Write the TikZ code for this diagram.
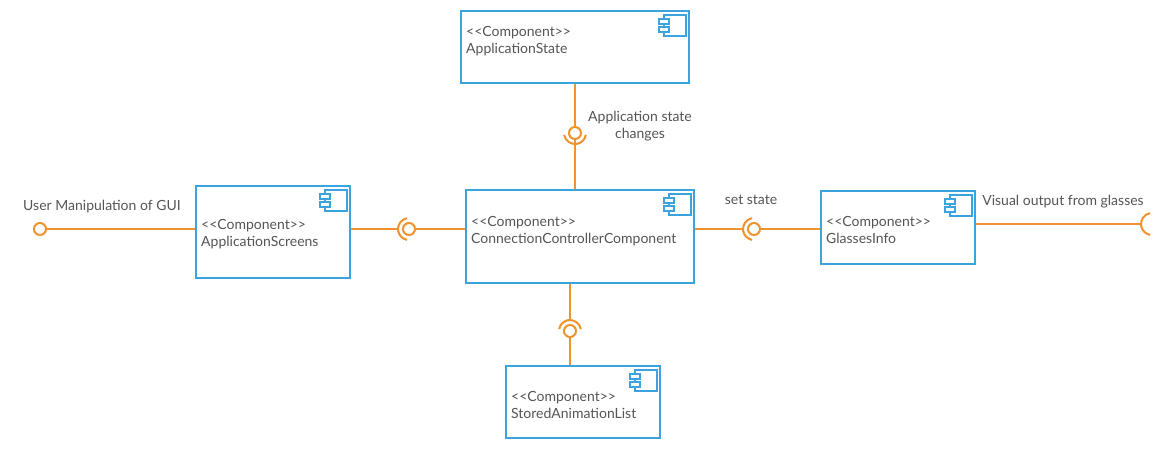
\documentclass[tikz,border=0pt]{standalone}
\usepackage{fontspec}
\setmainfont{Lato}
\usepackage{xcolor}
\usetikzlibrary{positioning,calc}

\definecolor{umlblue}{RGB}{59,163,221}
\definecolor{umlorange}{RGB}{240,146,46}
\definecolor{umltext}{RGB}{85,85,85}

% stereotype text without the << ligature
\newcommand{\stereo}{<{}<Component>{}>}

% component icon in the top right corner of a box
\newcommand{\compicon}[1]{%
  \draw[icon] ($(#1.north east)+(-26pt,-5pt)$) rectangle ($(#1.north east)+(-4pt,-26pt)$);
  \draw[icon, fill=white] ($(#1.north east)+(-31pt,-9pt)$) rectangle ($(#1.north east)+(-21pt,-14pt)$);
  \draw[icon, fill=white] ($(#1.north east)+(-31pt,-17pt)$) rectangle ($(#1.north east)+(-21pt,-22pt)$);
}

\begin{document}
\begin{tikzpicture}[
  x=1pt, y=1pt,
  font=\fontsize{14}{17}\selectfont, text=umltext,
  box/.style={draw=umlblue, line width=2pt, fill=white, inner sep=0pt},
  icon/.style={draw=umlblue, line width=1.5pt},
  ctext/.style={anchor=west, align=left, inner sep=0pt},
  lbl/.style={align=center, inner sep=0pt},
  wire/.style={draw=umlorange, line width=2pt},
  ball/.style={circle, draw=umlorange, line width=2pt, fill=white,
               minimum size=12pt, inner sep=0pt},
  sock/.style={draw=umlorange, line width=2pt}]

\useasboundingbox (0,0) rectangle (1165,-450);

% components
\node[box, minimum width=228pt, minimum height=72pt] (state) at (575,-47) {};
\node[box, minimum width=154pt, minimum height=92pt] (screens) at (273,-232) {};
\node[box, minimum width=228pt, minimum height=93pt] (ctrl) at (580,-236.5) {};
\node[box, minimum width=154pt, minimum height=73pt] (glasses) at (898,-227.5) {};
\node[box, minimum width=154pt, minimum height=72pt] (stored) at (583,-402) {};

\node[ctext] (stateTxt) at ([xshift=6pt, yshift=5.5pt]state.west) {\stereo\\ApplicationState};
\node[ctext] (screensTxt) at ([xshift=6pt, yshift=-2.5pt]screens.west) {\stereo\\ApplicationScreens};
\node[ctext] (ctrlTxt) at ([xshift=6pt, yshift=5.5pt]ctrl.west) {\stereo\\ConnectionControllerComponent};
\node[ctext] (glassesTxt) at ([xshift=6pt, yshift=-2pt]glasses.west) {\stereo\\GlassesInfo};
\node[ctext] (storedTxt) at ([xshift=6pt, yshift=-3pt]stored.west) {\stereo\\StoredAnimationList};

\compicon{state}
\compicon{screens}
\compicon{ctrl}
\compicon{glasses}
\compicon{stored}

% interfaces
\node[ball] (ballU) at (40,-229) {};
\node[ball] (ballT) at (575,-133) {};
\node[ball] (ballL) at (409,-229) {};
\node[ball] (ballG) at (754,-229) {};
\node[ball] (ballB) at (570,-331) {};
\coordinate (sockR) at (1152,-224);
\coordinate (sockL) at ([xshift=-11pt]ballL.center);
\coordinate (sockG) at ([xshift=-11pt]ballG.center);
\coordinate (sockB) at ([yshift=11pt]ballB.center);
\coordinate (sockRw) at ([xshift=-11pt]sockR);

% sockets
\draw[sock] ([shift={(190:11pt)}]ballT.center) arc[start angle=190, end angle=350, radius=11pt];
\draw[sock] ([shift={(100:11pt)}]ballL.center) arc[start angle=100, end angle=260, radius=11pt];
\draw[sock] ([shift={(100:11pt)}]ballG.center) arc[start angle=100, end angle=260, radius=11pt];
\draw[sock] ([shift={(100:11pt)}]sockR) arc[start angle=100, end angle=260, radius=11pt];
\draw[sock] ([shift={(10:11pt)}]ballB.center) arc[start angle=10, end angle=170, radius=11pt];

% connectors
\draw[wire] (ballU) -- (ballU -| screens.west);
\draw[wire] (state) -- (ballT);
\draw[wire] (ballT) -- (ballT |- ctrl.north);
\draw[wire] (sockL -| screens.east) -- (sockL);
\draw[wire] (ballL) -- (ballL -| ctrl.west);
\draw[wire] (sockG -| ctrl.east) -- (sockG);
\draw[wire] (ballG) -- (ballG -| glasses.west);
\draw[wire] (sockRw -| glasses.east) -- (sockRw);
\draw[wire] (ballB |- ctrl.south) -- (sockB);
\draw[wire] (ballB) -- (ballB |- stored.north);

% labels
\node[lbl] (userLbl) at (102,-207) {User Manipulation of GUI};
\node[lbl] (stateLbl) at (640,-126) {Application state\\changes};
\node[lbl] (setLbl) at (751,-199.5) {set state};
\node[lbl] (visLbl) at (1063,-201.5) {Visual output from glasses};
\end{tikzpicture}
\end{document}
